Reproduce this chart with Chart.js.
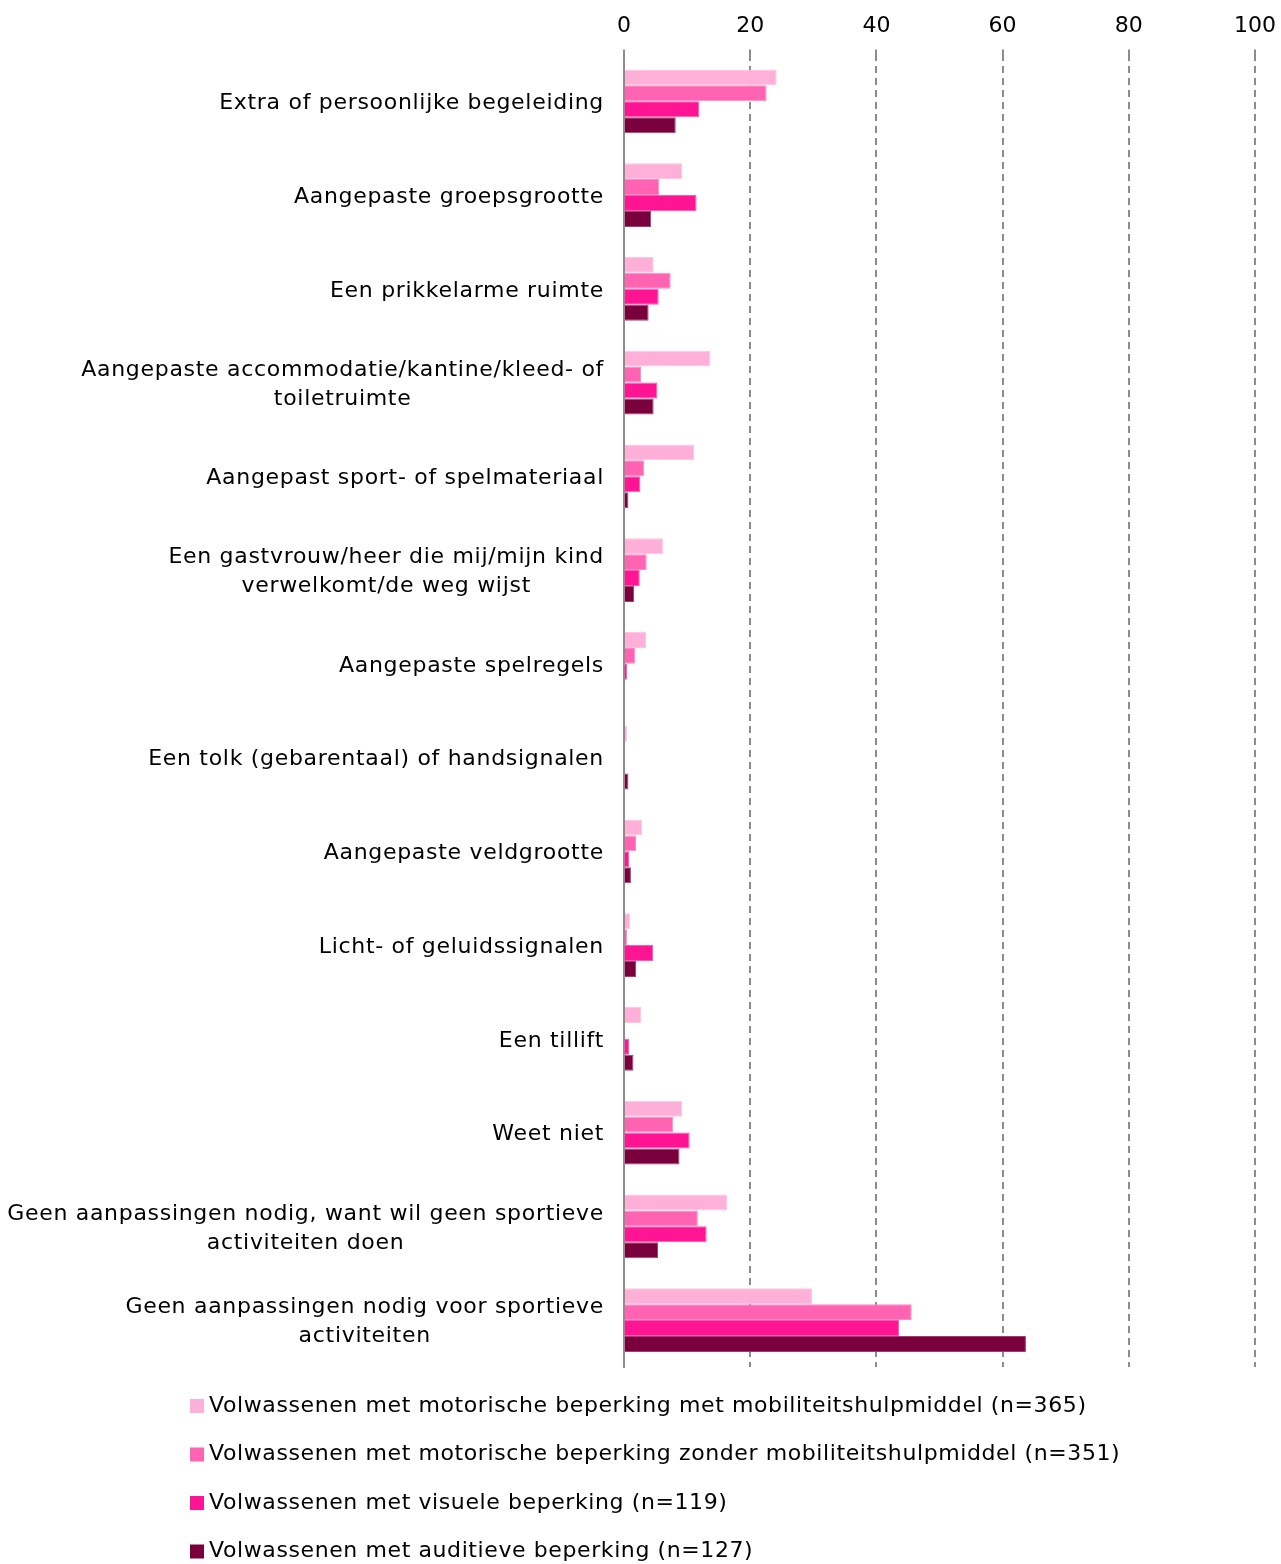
<!DOCTYPE html>
<html>
<head>
<meta charset="utf-8">
<script src="https://cdn.jsdelivr.net/npm/chart.js@4/dist/chart.umd.min.js"></script>
<style>
  html, body { margin: 0; padding: 0; background: #fff; }
  #wrap { width: 1281px; height: 1564px; position: relative; }
</style>
</head>
<body>
<div id="wrap"><canvas id="c" width="1281" height="1564"></canvas></div>
<script>
const categories = [
  'Extra of persoonlijke begeleiding',
  'Aangepaste groepsgrootte',
  'Een prikkelarme ruimte',
  ['Aangepaste accommodatie/kantine/kleed- of', 'toiletruimte'],
  'Aangepast sport- of spelmateriaal',
  ['Een gastvrouw/heer die mij/mijn kind', 'verwelkomt/de weg wijst'],
  'Aangepaste spelregels',
  'Een tolk (gebarentaal) of handsignalen',
  'Aangepaste veldgrootte',
  'Licht- of geluidssignalen',
  'Een tillift',
  'Weet niet',
  ['Geen aanpassingen nodig, want wil geen sportieve', 'activiteiten doen'],
  ['Geen aanpassingen nodig voor sportieve', 'activiteiten']
];

const seriesNames = [
  'Volwassenen met motorische beperking met mobiliteitshulpmiddel (n=365)',
  'Volwassenen met motorische beperking zonder mobiliteitshulpmiddel (n=351)',
  'Volwassenen met visuele beperking (n=119)',
  'Volwassenen met auditieve beperking (n=127)'
];

const motorMet    = [24.2, 9.2, 4.7, 13.7, 11.1, 6.2, 3.5, 0.5, 2.9, 1.0, 2.7, 9.2, 16.4, 29.8];
const motorZonder = [22.6, 5.6, 7.4, 2.7, 3.2, 3.6, 1.8, 0, 1.9, 0.5, 0, 7.8, 11.7, 45.6];
const visueel     = [11.9, 11.5, 5.5, 5.3, 2.6, 2.5, 0.5, 0, 0.8, 4.6, 0.8, 10.4, 13.1, 43.6];
const auditief    = [8.2, 4.3, 3.9, 4.7, 0.7, 1.6, 0, 0.7, 1.1, 1.9, 1.5, 8.8, 5.4, 63.7];

const xTicks = [0, 20, 40, 60, 80, 100];

const fills   = ['#FFB0D8', '#FF63B1', '#FF1493', '#7A003D'];
const edges   = ['#FFC6E3', '#FF8AC4', '#FF5AB0', '#A0406E'];

const FONT = 'DejaVu Sans';

// Category labels: block right-aligned to the axis, each line centred within it
const categoryLabels = {
  id: 'categoryLabels',
  afterDraw(chart) {
    const ctx = chart.ctx;
    const y = chart.scales.y;
    ctx.save();
    ctx.font = '22px "' + FONT + '"';
    ctx.letterSpacing = '0.7px';
    ctx.fillStyle = '#000';
    ctx.textAlign = 'center';
    ctx.textBaseline = 'middle';
    const right = 604, lh = 29;
    categories.forEach((lab, i) => {
      const lines = Array.isArray(lab) ? lab : [lab];
      const w = Math.max(...lines.map(l => ctx.measureText(l).width));
      const cx = right - w / 2;
      const cy = y.getPixelForValue(i) + 2;
      const y0 = cy - (lines.length - 1) * lh / 2;
      lines.forEach((l, k) => ctx.fillText(l, cx, y0 + k * lh));
    });
    ctx.restore();
  }
};

// Vertical legend under the plot
const stackedLegend = {
  id: 'stackedLegend',
  afterDraw(chart) {
    const ctx = chart.ctx;
    ctx.save();
    ctx.font = '22px "' + FONT + '"';
    ctx.letterSpacing = '0.6px';
    ctx.textAlign = 'left';
    ctx.textBaseline = 'middle';
    chart.data.datasets.forEach((ds, i) => {
      const cy = 1406 + i * 48.5;
      ctx.fillStyle = ds.backgroundColor;
      ctx.fillRect(190, cy - 7, 14, 14);
      ctx.fillStyle = '#000';
      ctx.fillText(ds.label, 209, cy);
    });
    ctx.restore();
  }
};

const seriesValues = [motorMet, motorZonder, visueel, auditief];

new Chart(document.getElementById('c'), {
  type: 'bar',
  data: {
    labels: categories,
    datasets: seriesValues.map((vals, i) => ({
      label: seriesNames[i],
      data: vals,
      backgroundColor: fills[i],
      borderColor: edges[i],
      borderWidth: 1,
      categoryPercentage: 0.68,
      barPercentage: 1.0
    }))
  },
  options: {
    indexAxis: 'y',
    responsive: false,
    animation: false,
    layout: { padding: { left: 624, right: 26, top: 3, bottom: 197 } },
    plugins: {
      legend: { display: false },
      tooltip: { enabled: false }
    },
    scales: {
      x: {
        position: 'top',
        min: 0,
        max: 100,
        afterBuildTicks(scale) { scale.ticks = xTicks.map(v => ({ value: v })); },
        afterFit(scale) { scale.paddingLeft = 0; scale.paddingRight = 0; },
        ticks: {
          color: '#000',
          font: { family: FONT, size: 22 },
          padding: 10
        },
        grid: {
          color: c => (c.tick && c.tick.value === 0) ? 'rgba(0,0,0,0)' : '#8c8c8c',
          lineWidth: 2,
          drawTicks: true,
          tickLength: 5,
          tickColor: '#8c8c8c',
          tickBorderDash: []
        },
        border: { display: false, dash: [7, 5] }
      },
      y: {
        ticks: { display: false },
        grid: { display: false, drawTicks: false },
        border: { display: true, color: '#8c8c8c', width: 2 }
      }
    }
  },
  plugins: [categoryLabels, stackedLegend]
});
</script>
</body>
</html>
